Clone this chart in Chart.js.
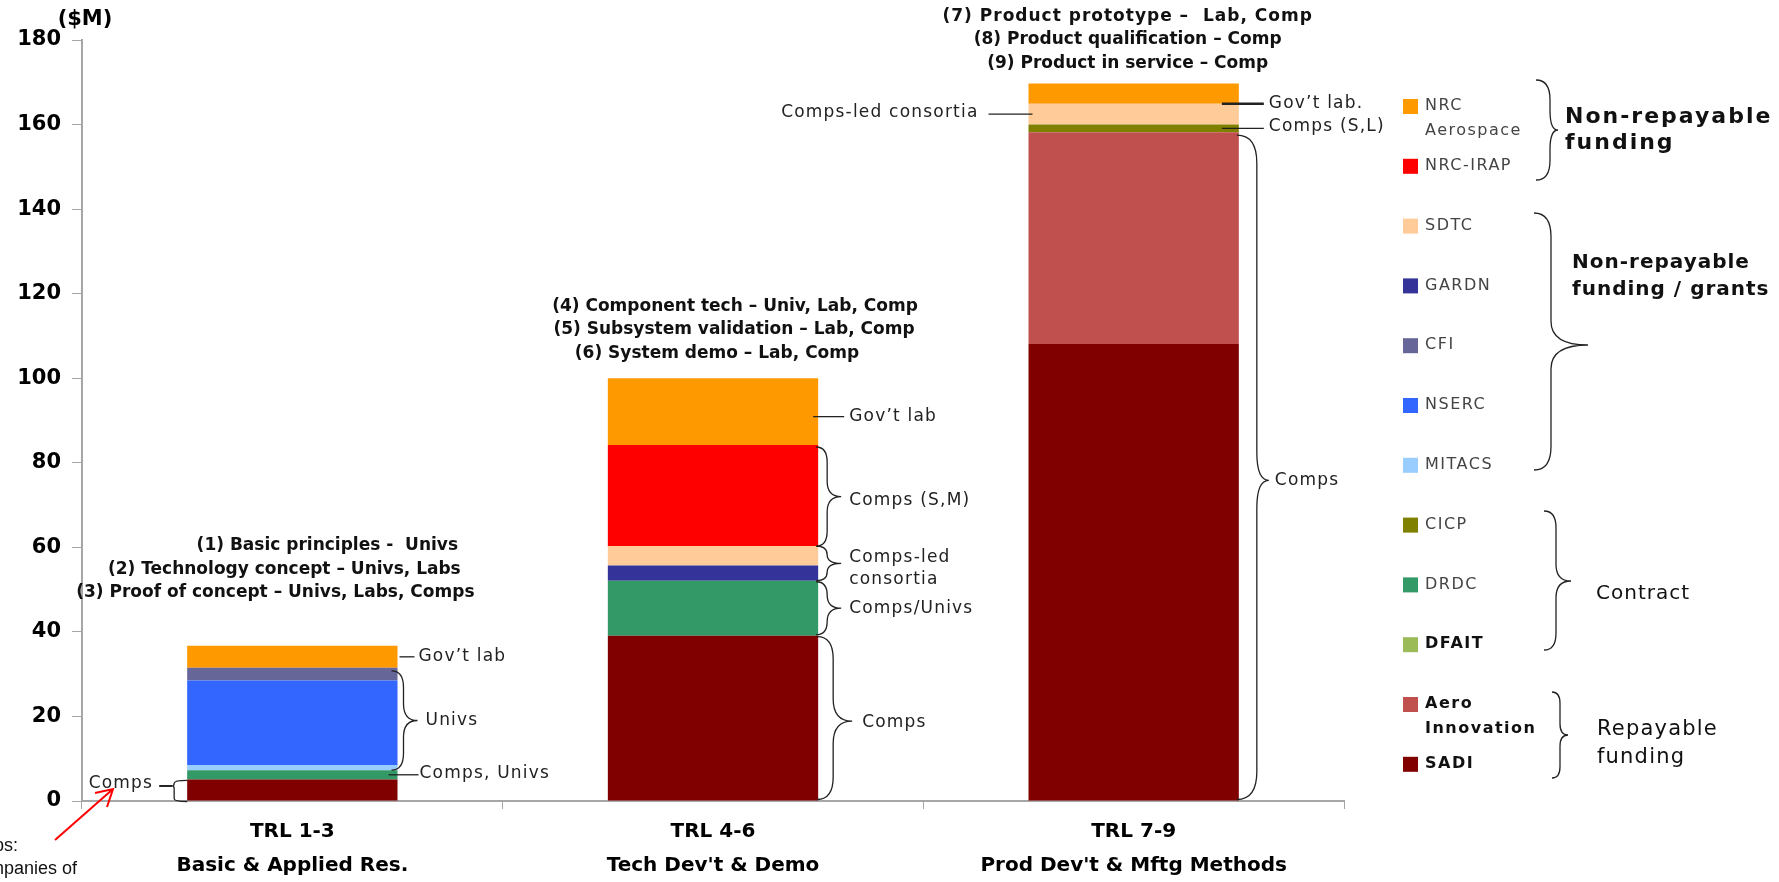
<!DOCTYPE html>
<html>
<head>
<meta charset="utf-8">
<script src="https://cdn.jsdelivr.net/npm/chart.js@4.4.1/dist/chart.umd.min.js"></script>
<style>
  html, body { margin: 0; padding: 0; background: #fff; }
</style>
</head>
<body>
<canvas id="trl-chart" width="1779" height="882"></canvas>
<script>
// categories (two-line axis labels)
const categories = [
  ['TRL 1-3', 'Basic & Applied Res.'],
  ['TRL 4-6', "Tech Dev't & Demo"],
  ['TRL 7-9', "Prod Dev't & Mftg Methods"]
];

// funding by program, $M, stacked bottom -> top
const sadi           = [5.1, 39.1, 108.1];
const aeroInnovation = [0, 0, 50.1];
const dfait          = [0, 0, 0];
const drdc           = [2.2, 13.0, 0];
const cicp           = [0, 0, 1.8];
const mitacs         = [1.2, 0, 0];
const nserc          = [20.0, 0, 0];
const cfi            = [3.0, 0, 0];
const gardn          = [0, 3.6, 0];
const sdtc           = [0, 4.6, 4.9];
const nrcIrap        = [0, 23.9, 0];
const nrcAerospace   = [5.2, 15.8, 4.8];

const yMin = 0, yMax = 180, yStep = 20;

const stageNotes = [
  ['(1) Basic principles -  Univs', '(2) Technology concept – Univs, Labs', '(3) Proof of concept – Univs, Labs, Comps'],
  ['(4) Component tech – Univ, Lab, Comp', '(5) Subsystem validation – Lab, Comp', '(6) System demo – Lab, Comp'],
  ['(7) Product prototype –  Lab, Comp', '(8) Product qualification – Comp', '(9) Product in service – Comp']
];

const groupLabels = [
  ['Non-repayable', 'funding'],
  ['Non-repayable', 'funding / grants'],
  ['Contract'],
  ['Repayable', 'funding']
];

// dataset indexes (stack order)
const SADI = 0, AERO_INNO = 1, DFAIT = 2, DRDC = 3, CICP = 4, MITACS = 5,
      NSERC = 6, CFI = 7, GARDN = 8, SDTC = 9, IRAP = 10, NRC_AERO = 11;

const FONT = '"DejaVu Sans", Verdana, sans-serif';

function drawBrace(ctx, x, y1, y2, spine, tip, tipY) {
  const m = tipY === undefined ? (y1 + y2) / 2 : tipY;
  const r = Math.min(Math.abs(spine) * 1.4, (m - y1) / 2, (y2 - m) / 2);
  ctx.beginPath();
  ctx.moveTo(x, y1);
  ctx.quadraticCurveTo(x + spine, y1, x + spine, y1 + r);
  ctx.lineTo(x + spine, m - r);
  ctx.quadraticCurveTo(x + spine, m, x + tip, m);
  ctx.quadraticCurveTo(x + spine, m, x + spine, m + r);
  ctx.lineTo(x + spine, y2 - r);
  ctx.quadraticCurveTo(x + spine, y2, x, y2);
  ctx.stroke();
}

function hline(ctx, x1, x2, y, w) {
  ctx.save();
  ctx.lineWidth = w || 1.3;
  ctx.beginPath();
  ctx.moveTo(x1, y);
  ctx.lineTo(x2, y);
  ctx.stroke();
  ctx.restore();
}

// notes next to the bars
const barNotes = {
  id: 'barNotes',
  afterDatasetsDraw(chart) {
    const ctx = chart.ctx;
    const seg = (ds, i) => chart.getDatasetMeta(ds).data[i];
    const rightOf = i => seg(SADI, i).x + seg(SADI, i).width / 2;
    const leftOf = i => seg(SADI, i).x - seg(SADI, i).width / 2;
    const topOf = (ds, i) => seg(ds, i).y;
    const baseOf = (ds, i) => seg(ds, i).base;
    const midOf = (ds, i) => (topOf(ds, i) + baseOf(ds, i)) / 2;

    ctx.save();
    ctx.font = '17px ' + FONT;
    ctx.letterSpacing = '1.2px';
    ctx.fillStyle = '#222';
    ctx.strokeStyle = '#222';
    ctx.lineWidth = 1.3;
    ctx.textBaseline = 'middle';
    ctx.textAlign = 'left';

    // TRL 1-3
    let r = rightOf(0), l = leftOf(0), y;
    y = midOf(NRC_AERO, 0);
    hline(ctx, r + 2, r + 17, y);
    ctx.fillText('Gov’t lab', r + 21, y);
    drawBrace(ctx, r - 6, topOf(CFI, 0) + 3, baseOf(MITACS, 0), 12, 26);
    ctx.fillText('Univs', r + 28, (topOf(CFI, 0) + baseOf(MITACS, 0)) / 2 + 2);
    y = midOf(DRDC, 0);
    hline(ctx, r - 9, r + 21, y);
    ctx.fillText('Comps, Univs', r + 22, y - 1);
    y = midOf(SADI, 0) - 4;
    drawBrace(ctx, l, topOf(SADI, 0) + 1, baseOf(SADI, 0) + 1, -13, -15, y);
    hline(ctx, l - 28, l - 15, y, 2);
    ctx.textAlign = 'right';
    ctx.fillText('Comps', l - 34, y - 2);
    ctx.textAlign = 'left';

    // TRL 4-6
    r = rightOf(1);
    y = midOf(NRC_AERO, 1) + 5;
    hline(ctx, r - 5, r + 26, y);
    ctx.fillText('Gov’t lab', r + 31, y);
    drawBrace(ctx, r - 2, topOf(IRAP, 1) + 2, baseOf(IRAP, 1), 11, 25);
    ctx.fillText('Comps (S,M)', r + 31, midOf(IRAP, 1) + 5);
    const cTop = topOf(SDTC, 1), cBot = baseOf(GARDN, 1);
    drawBrace(ctx, r - 2, cTop, cBot, 11, 25);
    ctx.fillText('Comps-led', r + 31, (cTop + cBot) / 2 - 6);
    ctx.fillText('consortia', r + 31, (cTop + cBot) / 2 + 16);
    drawBrace(ctx, r - 2, topOf(DRDC, 1) + 1, baseOf(DRDC, 1) - 1, 11, 25);
    ctx.fillText('Comps/Univs', r + 31, midOf(DRDC, 1));
    drawBrace(ctx, r - 1, topOf(SADI, 1) + 1, baseOf(SADI, 1) - 1, 16, 35, midOf(SADI, 1) + 3);
    ctx.fillText('Comps', r + 44, midOf(SADI, 1) + 4);

    // TRL 7-9
    r = rightOf(2); l = leftOf(2);
    y = topOf(SDTC, 2);
    hline(ctx, r - 17, r + 25, y, 2.5);
    ctx.fillText('Gov’t lab.', r + 30, y);
    y = midOf(CICP, 2);
    hline(ctx, r - 17, r + 25, y);
    ctx.fillText('Comps (S,L)', r + 30, y - 2);
    y = midOf(SDTC, 2);
    hline(ctx, l - 40, l + 4, y);
    ctx.textAlign = 'right';
    ctx.fillText('Comps-led consortia', l - 50, y - 2);
    ctx.textAlign = 'left';
    const bTop = topOf(AERO_INNO, 2) + 3, bBot = baseOf(SADI, 2) - 1;
    const bTip = (bTop + bBot) / 2 + 13;
    drawBrace(ctx, r - 2, bTop, bBot, 20, 32, bTip);
    ctx.fillText('Comps', r + 36, bTip);

    // stage descriptions above bars
    ctx.fillStyle = '#111';
    ctx.textAlign = 'center';
    ctx.font = 'bold 17px ' + FONT;
    const stageDx = [[35, -8, -17], [22, 21, 4], [-6, -6, -6]];
    const stageLift = [100, 72, 67];
    stageNotes.forEach((lines, i) => {
      const cx = seg(SADI, i).x;
      const top = topOf(NRC_AERO, i);
      lines.forEach((s, k) => {
        ctx.letterSpacing = (i === 2 && k === 0) ? '1px' : '0px';
        ctx.fillText(s, cx + stageDx[i][k], top - stageLift[i] + k * 23.5);
      });
    });
    ctx.restore();
  },
  afterDraw(chart) {
    const ctx = chart.ctx;
    const area = chart.chartArea;
    ctx.save();
    ctx.textBaseline = 'middle';

    // unit label
    ctx.fillStyle = '#000';
    ctx.font = 'bold 21px ' + FONT;
    ctx.textAlign = 'center';
    ctx.fillText('($M)', area.left + 3, 20);

    // custom legend (top item = last dataset)
    const ds = chart.data.datasets;
    const boldItems = ['DFAIT', 'Aero Innovation', 'SADI'];
    ctx.textAlign = 'left';
    for (let k = 0; k < ds.length; k++) {
      const d = ds[ds.length - 1 - k];
      const y = 106 + k * 59.8;
      ctx.fillStyle = d.backgroundColor;
      ctx.fillRect(1403, y - 7, 15, 15);
      const bold = boldItems.includes(d.label);
      ctx.font = (bold ? 'bold ' : '') + '16px ' + FONT;
      ctx.letterSpacing = '1.5px';
      ctx.fillStyle = bold ? '#111' : '#444';
      const words = d.label.includes(' ') ? d.label.split(' ') : [d.label];
      words.forEach((w, j) => ctx.fillText(w, 1425, y + j * 25));
    }

    // group braces
    ctx.strokeStyle = '#222';
    ctx.lineWidth = 1.3;
    drawBrace(ctx, 1536, 80, 180, 14, 22, 130);
    drawBrace(ctx, 1534, 213, 470, 17, 54, 345);
    drawBrace(ctx, 1544, 511, 650, 12, 27, 581);
    drawBrace(ctx, 1552, 692, 778, 8, 16, 735);

    ctx.fillStyle = '#111';
    ctx.letterSpacing = '2px';
    ctx.font = 'bold 22px ' + FONT;
    ctx.fillText(groupLabels[0][0], 1565, 117);
    ctx.fillText(groupLabels[0][1], 1565, 143);
    ctx.letterSpacing = '1px';
    ctx.font = 'bold 20px ' + FONT;
    ctx.fillText(groupLabels[1][0], 1572, 263);
    ctx.fillText(groupLabels[1][1], 1572, 290);
    ctx.font = '20px ' + FONT;
    ctx.letterSpacing = '1px';
    ctx.fillText(groupLabels[2][0], 1596, 594);
    ctx.font = '21px ' + FONT;
    ctx.letterSpacing = '1.2px';
    ctx.fillText(groupLabels[3][0], 1597, 730);
    ctx.fillText(groupLabels[3][1], 1597, 758);

    // red arrow pointing at the "Comps" note
    ctx.strokeStyle = '#ff0000';
    ctx.lineWidth = 2;
    ctx.beginPath();
    ctx.moveTo(55, 840);
    ctx.lineTo(113, 789);
    ctx.moveTo(95, 793);
    ctx.lineTo(113, 789);
    ctx.lineTo(107, 807);
    ctx.stroke();

    // clipped footnote at the bottom left
    ctx.fillStyle = '#111';
    ctx.letterSpacing = '0px';
    ctx.font = '18px "Liberation Sans", Arial, sans-serif';
    ctx.textAlign = 'right';
    ctx.fillText('Comps:', 18, 846);
    ctx.fillText('companies of', 77, 869);
    ctx.restore();
  }
};

const colors = {
  sadi: '#800000', aeroInnovation: '#C0504D', dfait: '#9BBB59', drdc: '#339966',
  cicp: '#808000', mitacs: '#99CCFF', nserc: '#3366FF', cfi: '#666699',
  gardn: '#333399', sdtc: '#FFCC99', nrcIrap: '#FF0000', nrcAerospace: '#FF9900'
};

const makeSet = (label, data, color) => ({
  label, data, backgroundColor: color, borderWidth: 0
});

const chartCtx = document.getElementById('trl-chart').getContext('2d');
const trlChart = new Chart(chartCtx, {
  type: 'bar',
  data: {
    labels: categories,
    datasets: [
      makeSet('SADI', sadi, colors.sadi),
      makeSet('Aero Innovation', aeroInnovation, colors.aeroInnovation),
      makeSet('DFAIT', dfait, colors.dfait),
      makeSet('DRDC', drdc, colors.drdc),
      makeSet('CICP', cicp, colors.cicp),
      makeSet('MITACS', mitacs, colors.mitacs),
      makeSet('NSERC', nserc, colors.nserc),
      makeSet('CFI', cfi, colors.cfi),
      makeSet('GARDN', gardn, colors.gardn),
      makeSet('SDTC', sdtc, colors.sdtc),
      makeSet('NRC-IRAP', nrcIrap, colors.nrcIrap),
      makeSet('NRC Aerospace', nrcAerospace, colors.nrcAerospace)
    ]
  },
  options: {
    responsive: false,
    animation: false,
    devicePixelRatio: 1,
    layout: { padding: { top: 40, right: 435, left: 0, bottom: 0 } },
    datasets: { bar: { barPercentage: 0.5, categoryPercentage: 1 } },
    scales: {
      x: {
        stacked: true,
        grid: { drawOnChartArea: false, drawTicks: true, tickLength: 8, color: '#a6a6a6', offset: true },
        border: { color: '#a6a6a6', width: 2 },
        ticks: {
          color: '#000',
          padding: 6,
          maxRotation: 0,
          autoSkip: false,
          font: { family: FONT, size: 20, weight: 'bold', lineHeight: 1.7 }
        },
        afterFit: s => { s.height = 81; }
      },
      y: {
        stacked: true,
        min: yMin,
        max: yMax,
        grid: { drawOnChartArea: false, drawTicks: true, tickLength: 10, color: '#a6a6a6' },
        border: { color: '#a6a6a6', width: 2 },
        ticks: {
          stepSize: yStep,
          color: '#000',
          padding: 11,
          font: { family: FONT, size: 21, weight: 'bold' }
        },
        afterFit: s => { s.width = 82; }
      }
    },
    plugins: {
      legend: { display: false },
      tooltip: { enabled: false }
    }
  },
  plugins: [barNotes]
});
</script>
</body>
</html>
